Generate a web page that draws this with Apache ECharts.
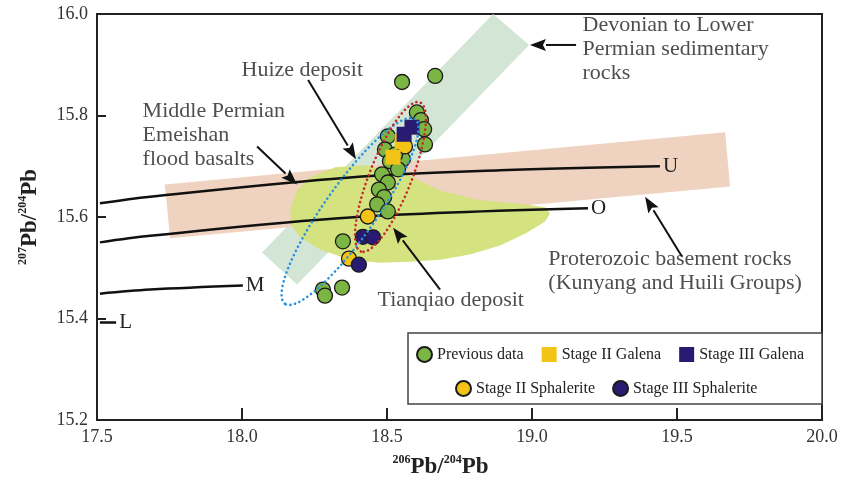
<!DOCTYPE html>
<html>
<head>
<meta charset="utf-8">
<script src="https://cdn.jsdelivr.net/npm/echarts@6/dist/echarts.min.js"></script>
<style>
  html, body { margin: 0; padding: 0; background: #fff; }
  #container { width: 847px; height: 487px; }
</style>
</head>
<body>
<div id="container"></div>
<script>
// 206Pb/204Pb vs 207Pb/204Pb
var previousData = [
  [18.552, 15.866], [18.666, 15.878], [18.603, 15.806], [18.617, 15.791],
  [18.628, 15.773], [18.631, 15.743], [18.503, 15.759], [18.493, 15.733],
  [18.510, 15.710], [18.555, 15.714], [18.538, 15.694], [18.483, 15.684],
  [18.503, 15.668], [18.472, 15.654], [18.490, 15.639], [18.466, 15.625],
  [18.503, 15.611], [18.528, 15.723], [18.348, 15.552], [18.345, 15.461],
  [18.279, 15.457], [18.286, 15.445]
];
var stage2Galena = [[18.552, 15.749], [18.521, 15.718]];
var stage3Galena = [[18.586, 15.777], [18.559, 15.763]];
var stage2Sphalerite = [[18.562, 15.739], [18.434, 15.601], [18.369, 15.518]];
var stage3Sphalerite = [[18.417, 15.561], [18.452, 15.560], [18.403, 15.506]];

// growth curves
var curveU = [[17.51, 15.627], [17.683, 15.640], [18.372, 15.678], [18.890, 15.692], [19.441, 15.700]];
var curveO = [[17.51, 15.550], [17.683, 15.563], [18.372, 15.599], [19.193, 15.617]];
var curveM = [[17.51, 15.449], [17.683, 15.457], [18.003, 15.465]];
var curveL = [[17.51, 15.392], [17.566, 15.392]];

// fields
var devonianBand = [[18.069, 15.530], [18.190, 15.467], [18.990, 15.939], [18.866, 16.0]];
var proterozoicBand = [[17.734, 15.664], [17.752, 15.558], [19.683, 15.660], [19.666, 15.767]];
var emeishanBasalt = [
  [18.166, 15.611], [18.186, 15.650], [18.234, 15.678], [18.321, 15.698],
  [18.424, 15.702], [18.545, 15.690], [18.683, 15.652], [18.821, 15.633],
  [18.959, 15.626], [19.045, 15.619], [19.062, 15.607], [19.045, 15.591],
  [18.976, 15.567], [18.890, 15.544], [18.786, 15.526], [18.683, 15.516],
  [18.579, 15.512], [18.476, 15.510], [18.372, 15.516], [18.269, 15.536],
  [18.200, 15.560], [18.169, 15.585]
];

// deposit outlines: ends of the long axis
var huizeEnds = [[18.597, 15.793], [18.148, 15.429]];
var tianqiaoEnds = [[18.614, 15.826], [18.410, 15.532]];

// arrows [x1, y1, x2(head), y2(head)]
var arrows = [
  [18.228, 15.870, 18.393, 15.714],
  [18.052, 15.739, 18.190, 15.664],
  [19.152, 15.939, 18.993, 15.939],
  [19.517, 15.522, 19.390, 15.640],
  [18.683, 15.457, 18.521, 15.579]
];
var notes = [
  { name: 'Huize deposit', value: [18.000, 15.911] },
  { name: 'Middle Permian\nEmeishan\nflood basalts', value: [17.659, 15.832] },
  { name: 'Devonian to Lower\nPermian sedimentary\nrocks', value: [19.176, 16.0] },
  { name: 'Proterozoic basement rocks\n(Kunyang and Huili Groups)', value: [19.058, 15.540] },
  { name: 'Tianqiao deposit', value: [18.469, 15.459] }
];

var serif = "'Liberation Serif', 'Times New Roman', serif";

function fieldSeries(pts, color, z) {
	return {
		type: 'custom', silent: true, z: z,
		data: [pts[0]],
		renderItem: function(params, api) {
			return {
				type: 'polygon',
				shape: { points: pts.map(function(p) { return api.coord(p); }) },
				style: { fill: color }
			};
		}
	};
}

function outlineSeries(ends, half, color) {
	return {
		type: 'custom', silent: true, z: 6,
		data: [ends[0]],
		renderItem: function(params, api) {
			var a = api.coord(ends[0]), b = api.coord(ends[1]);
			var cx = (a[0] + b[0]) / 2, cy = (a[1] + b[1]) / 2;
			var rx = Math.sqrt((b[0] - a[0]) * (b[0] - a[0]) + (b[1] - a[1]) * (b[1] - a[1])) / 2;
			var ang = Math.atan2(b[1] - a[1], b[0] - a[0]);
			var pts = [];
			for (var i = 0; i <= 90; ++i) {
				var t = i / 90 * Math.PI * 2;
				var ex = rx * Math.cos(t), ey = half * Math.sin(t);
				pts.push([cx + ex * Math.cos(ang) - ey * Math.sin(ang),
				          cy + ex * Math.sin(ang) + ey * Math.cos(ang)]);
			}
			return {
				type: 'polyline',
				shape: { points: pts },
				style: { fill: null, stroke: color, lineWidth: 2.6, lineDash: [0.1, 4.6], lineCap: 'round' }
			};
		}
	};
}

function curveSeries(pts, label) {
	return {
		type: 'line', data: pts, smooth: 0.35, symbol: 'none', silent: true, z: 3,
		lineStyle: { color: '#111', width: 2.5 },
		endLabel: { show: true, formatter: label, distance: 3, color: '#222', fontSize: 21, fontFamily: serif }
	};
}

function scatterSeries(name, data, symbol, color, border, z) {
	return {
		name: name, type: 'scatter', data: data, symbol: symbol, symbolSize: 15, z: z,
		itemStyle: { color: color, borderColor: border ? '#1a1a1a' : color, borderWidth: border ? 1.3 : 0, opacity: 1 }
	};
}

var myChart = echarts.init(document.getElementById('container'));
var option = {
	backgroundColor: '#fff',
	animation: false,
	grid: { left: 97, right: 25, top: 14, bottom: 67, show: true, borderColor: '#222', borderWidth: 2 },
	xAxis: {
		type: 'value', min: 17.5, max: 20, interval: 0.5,
		axisLine: { show: true, lineStyle: { color: '#222', width: 2 } },
		axisTick: { show: true, inside: true, length: 12, lineStyle: { color: '#222', width: 2 } },
		axisLabel: { formatter: function(v) { return v.toFixed(1); }, fontSize: 18, color: '#333', fontFamily: serif, margin: 8 },
		splitLine: { show: false },
		name: '{s|206}{b|Pb/}{s|204}{b|Pb}',
		nameLocation: 'middle', nameGap: 34,
		nameTextStyle: {
			padding: [0, 38, 0, 0],
			rich: {
				s: { fontSize: 12, fontWeight: 'bold', fontFamily: serif, color: '#222', verticalAlign: 'top' },
				b: { fontSize: 23, fontWeight: 'bold', fontFamily: serif, color: '#222', lineHeight: 26 }
			}
		}
	},
	yAxis: {
		type: 'value', min: 15.2, max: 16.0, interval: 0.2,
		axisLine: { show: true, lineStyle: { color: '#222', width: 2 } },
		axisTick: { show: true, inside: true, length: 9, lineStyle: { color: '#222', width: 2 } },
		axisLabel: { formatter: function(v) { return v.toFixed(1); }, fontSize: 18, color: '#333', fontFamily: serif, margin: 9 },
		splitLine: { show: false },
		name: '{s|207}{b|Pb/}{s|204}{b|Pb}',
		nameLocation: 'middle', nameGap: 54,
		nameTextStyle: {
			rich: {
				s: { fontSize: 12, fontWeight: 'bold', fontFamily: serif, color: '#222', verticalAlign: 'top' },
				b: { fontSize: 23, fontWeight: 'bold', fontFamily: serif, color: '#222', lineHeight: 26 }
			}
		}
	},
	legend: [
		{
			data: ['Previous data', 'Stage II Galena', 'Stage III Galena'],
			left: 416, top: 346, padding: 0, itemWidth: 15, itemHeight: 15, itemGap: 18,
			textStyle: { fontSize: 16, color: '#222', fontFamily: serif }
		},
		{
			data: ['Stage II Sphalerite', 'Stage III Sphalerite'],
			left: 455, top: 380, padding: 0, itemWidth: 15, itemHeight: 15, itemGap: 17,
			textStyle: { fontSize: 16, color: '#222', fontFamily: serif }
		}
	],
	graphic: [
		{
			type: 'rect', z: 3,
			shape: { x: 408, y: 333, width: 414, height: 71 },
			style: { fill: '#fff', stroke: '#444', lineWidth: 1.5 }
		}
	],
	series: [
		fieldSeries(devonianBand, '#d3e6d5', 1),
		fieldSeries(proterozoicBand, '#efd2bf', 1),
		fieldSeries(emeishanBasalt, '#d4e27f', 1),
		curveSeries(curveU, 'U'),
		curveSeries(curveO, 'O'),
		curveSeries(curveM, 'M'),
		curveSeries(curveL, 'L'),
		scatterSeries('Previous data', previousData, 'circle', '#7bb544', true, 4),
		scatterSeries('Stage II Sphalerite', stage2Sphalerite, 'circle', '#f3c416', true, 4),
		scatterSeries('Stage III Sphalerite', stage3Sphalerite, 'circle', '#2a1b72', true, 4),
		scatterSeries('Stage II Galena', stage2Galena, 'rect', '#f3c416', false, 5),
		scatterSeries('Stage III Galena', stage3Galena, 'rect', '#2a1b72', false, 5),
		outlineSeries(huizeEnds, 26, '#2a92dc'),
		outlineSeries(tianqiaoEnds, 21, '#c8282c'),
		{
			type: 'custom', silent: true, z: 7,
			data: arrows,
			encode: { x: [0, 2], y: [1, 3] },
			renderItem: function(params, api) {
				var a = api.coord([api.value(0), api.value(1)]);
				var b = api.coord([api.value(2), api.value(3)]);
				var ang = Math.atan2(b[1] - a[1], b[0] - a[0]);
				var len = 16, w = 6;
				var bx = b[0] - len * Math.cos(ang), by = b[1] - len * Math.sin(ang);
				return {
					type: 'group',
					children: [
						{ type: 'line', shape: { x1: a[0], y1: a[1], x2: bx, y2: by }, style: { stroke: '#111', lineWidth: 2 } },
						{ type: 'polygon', shape: { points: [b,
							[bx - w * Math.sin(ang), by + w * Math.cos(ang)],
							[bx + 3 * Math.cos(ang), by + 3 * Math.sin(ang)],
							[bx + w * Math.sin(ang), by - w * Math.cos(ang)]] }, style: { fill: '#111' } }
					]
				};
			}
		},
		{
			type: 'scatter', silent: true, z: 7,
			data: notes, symbolSize: 1,
			itemStyle: { color: 'rgba(0,0,0,0)' },
			label: {
				show: true, position: [0, 0], align: 'left', verticalAlign: 'top',
				formatter: function(p) { return p.name; },
				fontSize: 22, lineHeight: 24, color: '#222', fontFamily: serif
			}
		}
	]
};
myChart.setOption(option);
</script>
</body>
</html>
